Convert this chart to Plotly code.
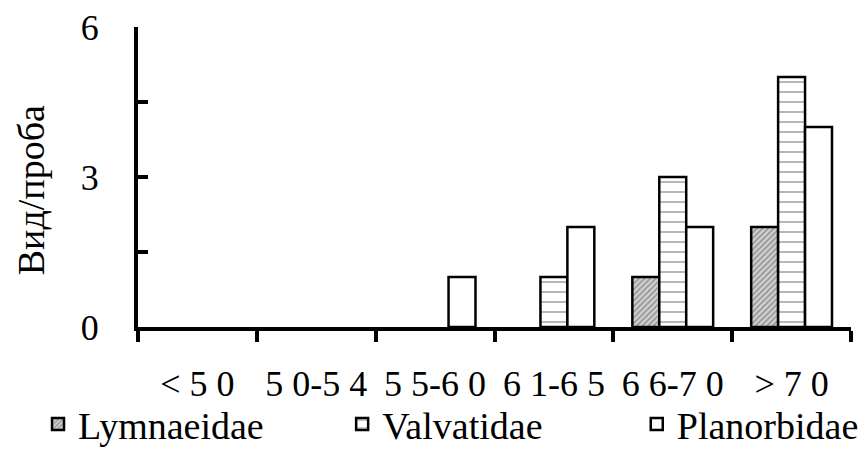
import plotly.graph_objects as go

categories = ["< 5 0", "5 0-5 4", "5 5-6 0", "6 1-6 5", "6 6-7 0", "> 7 0"]
lymnaeidae = [0, 0, 0, 0, 1, 2]
valvatidae = [0, 0, 0, 1, 3, 5]
planorbidae = [0, 0, 1, 2, 2, 4]
y_tickvals = [0, 1.5, 3, 4.5, 6]
y_ticktext = ["0", "", "3", "", "6"]
y_title = "Вид/проба"

FONT = "Liberation Serif, Times New Roman, serif"


def shown(values):
    # empty (zero) bars draw nothing in the reference
    return [v if v > 0 else None for v in values]


fig = go.Figure()
fig.add_trace(go.Bar(
    name="Lymnaeidae", x=categories, y=shown(lymnaeidae), legend="legend",
    marker=dict(color="white", line=dict(color="black", width=2.5),
                pattern=dict(shape="/", fgcolor="#444444", bgcolor="#d0d0d0",
                             size=4, solidity=0.35)),
))
fig.add_trace(go.Bar(
    name="Valvatidae", x=categories, y=shown(valvatidae), legend="legend2",
    marker=dict(color="white", line=dict(color="black", width=2.5),
                pattern=dict(shape="-", fgcolor="#707070", bgcolor="white",
                             size=10, solidity=0.2)),
))
fig.add_trace(go.Bar(
    name="Planorbidae", x=categories, y=shown(planorbidae), legend="legend3",
    marker=dict(color="white", line=dict(color="black", width=2.5)),
))

legend_common = dict(orientation="h", xref="container", yref="container",
                     xanchor="left", y=0.127, yanchor="top",
                     font=dict(family=FONT, size=38, color="black"),
                     itemclick=False, itemdoubleclick=False,
                     bgcolor="rgba(0,0,0,0)")

fig.update_layout(
    width=864, height=450,
    margin=dict(l=138, r=13, t=27, b=123, autoexpand=False),
    paper_bgcolor="white", plot_bgcolor="white",
    barmode="group", bargap=0.32, bargroupgap=0,
    font=dict(family=FONT, size=36, color="black"),
    showlegend=True,
    legend=dict(x=0.044, **legend_common),
    legend2=dict(x=0.396, **legend_common),
    legend3=dict(x=0.737, **legend_common),
    xaxis=dict(
        type="category", range=[-0.5, 5.5],
        showline=True, linecolor="black", linewidth=4,
        ticks="outside", tickson="boundaries", ticklen=11, tickwidth=4,
        tickcolor="black", showgrid=False, zeroline=False,
        tickfont=dict(family=FONT, size=36, color="black"),
        ticklabelstandoff=22,
    ),
    yaxis=dict(
        range=[0, 6], tickmode="array", tickvals=y_tickvals, ticktext=y_ticktext,
        showline=True, linecolor="black", linewidth=4,
        ticks="inside", ticklen=10, tickwidth=4, tickcolor="black",
        showgrid=False, zeroline=False,
        tickfont=dict(family=FONT, size=36, color="black"),
        ticklabelstandoff=28,
    ),
    annotations=[dict(
        text=y_title, textangle=-90, showarrow=False,
        xref="paper", yref="paper", x=-0.149, y=0.455,
        xanchor="center", yanchor="middle",
        font=dict(family=FONT, size=38, color="black"),
    )],
)

fig.write_html("out.html")
